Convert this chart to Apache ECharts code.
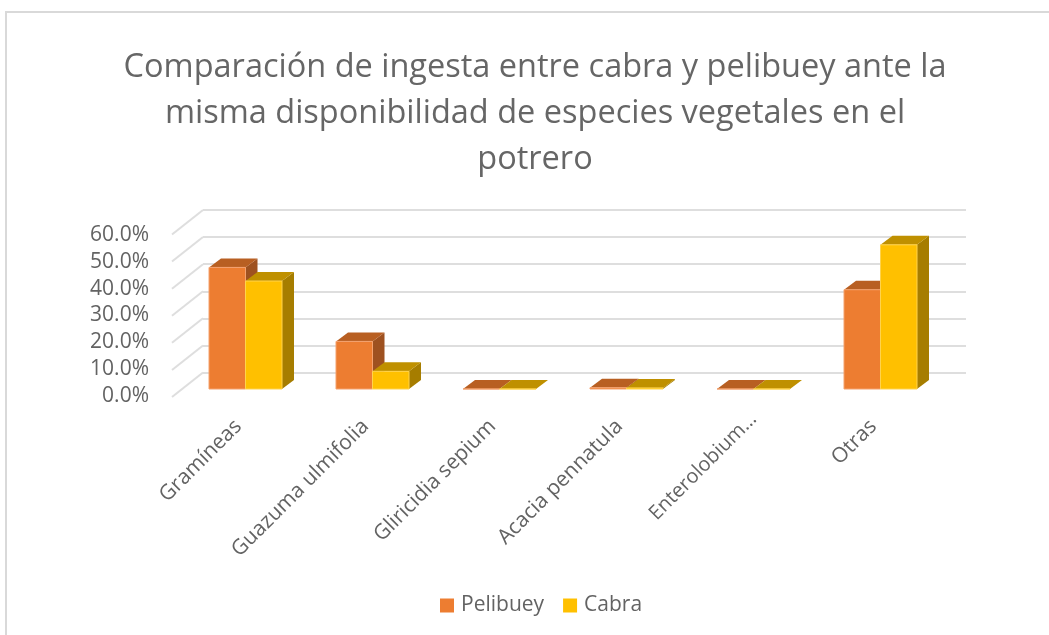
<!DOCTYPE html>
<html>
<head>
<meta charset="utf-8">
<style>
html, body { margin: 0; padding: 0; background: #fff; }
#chart { width: 1049px; height: 635px; }
</style>
<script src="https://cdn.jsdelivr.net/npm/echarts@6/dist/echarts.min.js"></script>
</head>
<body>
<div id="chart"></div>
<script>
const titleText = 'Comparación de ingesta entre cabra y pelibuey ante la\nmisma disponibilidad de especies vegetales en el\npotrero'
const categories = ['Gramíneas', 'Guazuma ulmifolia', 'Gliricidia sepium', 'Acacia pennatula', 'Enterolobium…', 'Otras']
const pelibuey = [44.7, 17.5, 0, 0.5, 0, 36.5]
const cabra = [39.7, 6.5, 0, 0.4, 0, 53]
const axisTicks = [0, 10, 20, 30, 40, 50, 60]

const fontFamily = '"Open Sans", sans-serif'
const textColor = '#636363'
const gridColor = '#dedede'

// 3D look: bar depth and floor depth in pixels
const barW = 36.5
const barDx = 12
const barDy = -9
const wallDx = 31
const wallDy = -24.5

function barRender (offset, front, top, side, edge) {
    return function (params, api) {
        const p = api.coord([api.value(0), api.value(1)])
        const base = api.coord([api.value(0), 0])
        const x0 = p[0] + offset
        const x1 = x0 + barW
        const y0 = p[1]
        const y1 = base[1]
        return {
            type: 'group',
            children: [
                { type: 'polygon', shape: { points: [[x1, y1], [x1 + barDx, y1 + barDy], [x1 + barDx, y0 + barDy], [x1, y0]] }, style: { fill: side } },
                { type: 'polygon', shape: { points: [[x0, y0], [x1, y0], [x1 + barDx, y0 + barDy], [x0 + barDx, y0 + barDy]] }, style: { fill: top } },
                { type: 'rect', shape: { x: x0, y: y0, width: barW, height: y1 - y0 }, style: { fill: front, stroke: edge, lineWidth: 1 } }
            ]
        }
    }
}

function wallRender (params, api) {
    const p = api.coord([0, api.value(0)])
    const x = params.coordSys.x
    return {
        type: 'line',
        shape: { x1: x, y1: p[1], x2: x - wallDx, y2: p[1] - wallDy },
        style: { stroke: gridColor, lineWidth: 2 }
    }
}

const chart = echarts.init(document.getElementById('chart'))
chart.setOption({
    animation: false,
    backgroundColor: '#fff',
    title: {
        text: titleText,
        left: 530,
        top: 40,
        textAlign: 'center',
        textStyle: { fontFamily, fontSize: 32.5, fontWeight: 'normal', color: '#666666', lineHeight: 46 }
    },
    legend: {
        data: ['Pelibuey', 'Cabra'],
        left: 435,
        top: 590,
        icon: 'rect',
        itemWidth: 14,
        itemHeight: 14,
        itemGap: 19,
        textStyle: { fontFamily, fontSize: 21, color: textColor, padding: [0, 0, 0, 2] }
    },
    graphic: [{
        type: 'polyline',
        shape: { points: [[6, 635], [6, 12], [1049, 12]] },
        style: { stroke: '#d9d9d9', fill: 'none', lineWidth: 2 },
        silent: true
    }],
    grid: [
        // back wall
        { left: 203, width: 763, top: 210, height: 162.5 },
        // plane the bars stand on
        { left: 182, width: 762, top: 225.8, height: 163.2 },
        // front edge, carries the value labels
        { left: 172, width: 762, top: 235, height: 161 }
    ],
    xAxis: [
        { gridIndex: 0, type: 'category', data: categories, show: false },
        {
            gridIndex: 1,
            type: 'category',
            data: categories,
            axisLine: { show: false },
            axisTick: { show: false },
            axisLabel: {
                interval: 0,
                rotate: 45,
                margin: 27,
                fontFamily,
                fontSize: 21,
                color: textColor,
                // the cut-off name sits a bit further along and is tighter in the original
                formatter: v => (v === categories[4] ? '{cut|' + v + '}' : '{name|' + v + '}'),
                rich: {
                    name: { fontFamily, fontSize: 21, color: textColor, padding: [0, 10, 0, 0] },
                    cut: { fontFamily, fontSize: 20, color: textColor }
                }
            }
        },
        { gridIndex: 2, type: 'category', data: categories, show: false }
    ],
    yAxis: [
        {
            gridIndex: 0,
            min: 0,
            max: 60,
            interval: 10,
            axisLine: { show: false },
            axisTick: { show: false },
            axisLabel: { show: false },
            splitLine: { lineStyle: { color: gridColor, width: 2 } }
        },
        { gridIndex: 1, min: 0, max: 60, interval: 10, show: false },
        {
            gridIndex: 2,
            min: 0,
            max: 60,
            interval: 10,
            axisLine: { show: false },
            axisTick: { show: false },
            splitLine: { show: false },
            axisLabel: { margin: 23, fontFamily, fontSize: 21, color: textColor, formatter: v => v.toFixed(1) + '%' }
        }
    ],
    series: [
        {
            name: 'wall',
            type: 'custom',
            xAxisIndex: 0,
            yAxisIndex: 0,
            renderItem: wallRender,
            encode: { y: 0 },
            data: axisTicks.map(v => [v]),
            silent: true
        },
        {
            name: 'Pelibuey',
            type: 'custom',
            xAxisIndex: 1,
            yAxisIndex: 1,
            itemStyle: { color: '#ED7D31' },
            renderItem: barRender(-barW, '#ED7D31', '#B85F22', '#9E5120', '#F4A26F'),
            encode: { x: 0, y: 1 },
            data: pelibuey.map((v, i) => [i, v])
        },
        {
            name: 'Cabra',
            type: 'custom',
            xAxisIndex: 1,
            yAxisIndex: 1,
            itemStyle: { color: '#FFC000' },
            renderItem: barRender(0, '#FFC000', '#BF9000', '#A67D00', '#FFD34D'),
            encode: { x: 0, y: 1 },
            data: cabra.map((v, i) => [i, v])
        }
    ]
})
</script>
</body>
</html>
